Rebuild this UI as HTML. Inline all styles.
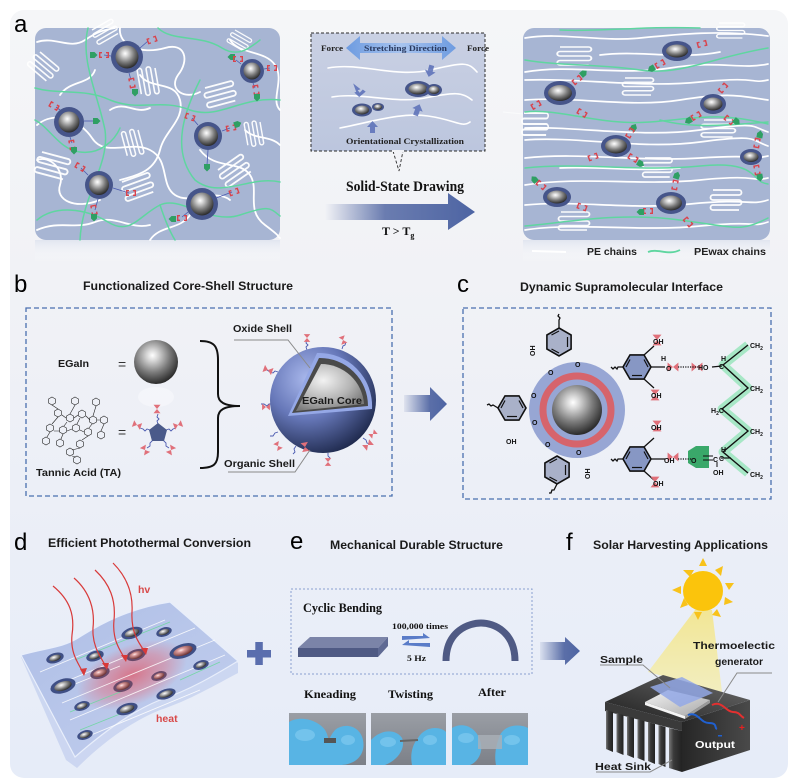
<!DOCTYPE html>
<html><head><meta charset="utf-8"><style>
html,body{margin:0;padding:0;background:#fff;}
svg{display:block;}
.s{font-family:"Liberation Sans",Arial,sans-serif;}
.r{font-family:"Liberation Serif","Times New Roman",serif;font-weight:bold;}
</style></head><body>
<svg width="795" height="782" viewBox="0 0 795 782" xmlns="http://www.w3.org/2000/svg">
<defs>
<linearGradient id="bg" x1="0" y1="0" x2="0" y2="1">
<stop offset="0" stop-color="#f5f6f8"/><stop offset="0.35" stop-color="#f1f2f6"/><stop offset="0.62" stop-color="#eceff7"/><stop offset="1" stop-color="#e6ecf8"/></linearGradient>
<linearGradient id="refl" x1="0" y1="0" x2="0" y2="1">
<stop offset="0" stop-color="#dfe4ef" stop-opacity="0.9"/><stop offset="1" stop-color="#ffffff" stop-opacity="0"/></linearGradient>
<radialGradient id="metal" cx="0.42" cy="0.35" r="0.65">
<stop offset="0" stop-color="#ffffff"/><stop offset="0.2" stop-color="#d6d6d6"/><stop offset="0.6" stop-color="#7b7b7b"/><stop offset="1" stop-color="#2c2c2c"/></radialGradient>
<radialGradient id="metalR" cx="0.42" cy="0.35" r="0.65">
<stop offset="0" stop-color="#ffe9e9"/><stop offset="0.3" stop-color="#d99a9a"/><stop offset="1" stop-color="#6a3030"/></radialGradient>
<radialGradient id="bigS" cx="0.35" cy="0.3" r="0.75">
<stop offset="0" stop-color="#a9b8ec"/><stop offset="0.5" stop-color="#6677b8"/><stop offset="1" stop-color="#1f2a4e"/></radialGradient>
<radialGradient id="core" cx="0.4" cy="0.35" r="0.7">
<stop offset="0" stop-color="#f2f2f2"/><stop offset="0.6" stop-color="#b4b4b4"/><stop offset="1" stop-color="#7a7a7a"/></radialGradient>
<linearGradient id="arr" x1="0" y1="0" x2="1" y2="0">
<stop offset="0" stop-color="#5b6fa8" stop-opacity="0"/><stop offset="0.4" stop-color="#5b6fa8" stop-opacity="0.9"/><stop offset="1" stop-color="#4d64a3"/></linearGradient>
<linearGradient id="arr2" x1="0" y1="0" x2="1" y2="0">
<stop offset="0" stop-color="#5b6fa8" stop-opacity="0.1"/><stop offset="0.6" stop-color="#5b6fa8"/><stop offset="1" stop-color="#4d64a3"/></linearGradient>
<linearGradient id="str" x1="0" y1="0" x2="1" y2="0">
<stop offset="0" stop-color="#6d9be0"/><stop offset="0.5" stop-color="#a8c4ef"/><stop offset="1" stop-color="#6d9be0"/></linearGradient>
<linearGradient id="mid" x1="0" y1="0" x2="0" y2="1">
<stop offset="0" stop-color="#c9d0e3"/><stop offset="1" stop-color="#bcc6de"/></linearGradient>
<linearGradient id="film" x1="0" y1="0" x2="1" y2="1">
<stop offset="0" stop-color="#aebee6"/><stop offset="1" stop-color="#c3cfee"/></linearGradient>
<radialGradient id="glow" cx="0.5" cy="0.5" r="0.5">
<stop offset="0" stop-color="#e05a6a" stop-opacity="0.75"/><stop offset="0.6" stop-color="#e27080" stop-opacity="0.45"/><stop offset="1" stop-color="#e27080" stop-opacity="0"/></radialGradient>
<linearGradient id="beam" x1="0" y1="0" x2="0" y2="1">
<stop offset="0" stop-color="#f3e58a" stop-opacity="0.9"/><stop offset="1" stop-color="#f5eeb0" stop-opacity="0.8"/></linearGradient>
<linearGradient id="topF" x1="0" y1="1" x2="1" y2="0">
<stop offset="0" stop-color="#1e1e1e"/><stop offset="1" stop-color="#6e6e6e"/></linearGradient>
<linearGradient id="rightF" x1="0" y1="0" x2="1" y2="0">
<stop offset="0" stop-color="#262626"/><stop offset="1" stop-color="#4a4a4a"/></linearGradient>
<linearGradient id="fin" x1="0" y1="0" x2="1" y2="0">
<stop offset="0" stop-color="#7a7a7a"/><stop offset="0.35" stop-color="#3a3a3a"/><stop offset="1" stop-color="#222"/></linearGradient>
<linearGradient id="plate" x1="0" y1="0" x2="1" y2="1">
<stop offset="0" stop-color="#f4f4f4"/><stop offset="1" stop-color="#a8a8a8"/></linearGradient>
<linearGradient id="photo" x1="0" y1="0" x2="0" y2="1">
<stop offset="0" stop-color="#9a9ea5"/><stop offset="1" stop-color="#7c8088"/></linearGradient>
<g id="rb"><path d="M-5,-3h3v1.4h-1.6v3.2h1.6v1.4h-3z M5,-3h-3v1.4h1.6v3.2h-1.6v1.4h3z" fill="#d9434c"/></g>
<g id="gp"><path d="M-4,-3h4.5l3,3l-3,3h-4.5z" fill="#2f9f63"/></g>
<g id="lam"><path d="M0,0h26a2.5,2.5 0 0 1 0,5h-26a2.5,2.5 0 0 0 0,5h26a2.5,2.5 0 0 1 0,5h-26a2.5,2.5 0 0 0 0,5h26" fill="none" stroke="#fff" stroke-width="1.8"/></g>
<g id="bow"><path d="M-6,-5L0,0L-6,5Z M6,-5L0,0L6,5Z" fill="#e0707a"/></g>
<g id="hx"><polygon points="0,-14 12.1,-7 12.1,7 0,14 -12.1,7 -12.1,-7" stroke="#111" stroke-width="1.6"/><polyline points="8.5,-5 8.5,5" stroke="#111" stroke-width="1.2" fill="none"/><polyline points="-7.5,7 0,11" stroke="#111" stroke-width="1.2" fill="none"/><polyline points="-7.5,-7 0,-11" stroke="#111" stroke-width="1.2" fill="none"/></g>
<g id="sh"><polygon points="0,-4 3.5,-2 3.5,2 0,4 -3.5,2 -3.5,-2" fill="none" stroke="#222" stroke-width="0.6"/></g>
</defs>

<rect x="0" y="0" width="795" height="782" fill="#fff"/>
<rect x="10" y="10" width="778" height="768" rx="14" fill="url(#bg)"/>

<!-- ============ PANEL A ============ -->
<text x="14" y="32" class="s" font-size="24">a</text>

<!-- left box -->
<rect x="35" y="240" width="245" height="22" fill="url(#refl)"/>
<rect x="35" y="28" width="245" height="212" rx="11" fill="#a7b5d3"/>
<g fill="none" stroke="#fff" stroke-width="1.8" stroke-linecap="round">
<path d="M37,42 C55,36 70,50 85,40 S105,30 115,28"/>
<path d="M37,125 C55,110 80,120 92,138 C105,158 130,140 150,150 C170,160 160,185 175,195 C190,205 215,188 230,200"/>
<path d="M37,160 C50,155 65,170 60,185 C55,200 75,210 100,200"/>
<path d="M120,28 C118,45 140,55 165,48 C185,42 190,60 178,75 C168,90 185,100 200,92"/>
<path d="M140,75 C150,90 175,80 180,100 C185,120 165,130 160,150 C155,170 140,175 120,180"/>
<path d="M230,40 C240,55 265,50 275,65 S270,100 280,110"/>
<path d="M200,150 C215,170 240,160 250,175 C260,190 245,210 265,225 S275,235 280,238"/>
<path d="M37,230 C60,220 75,230 95,222 C115,214 130,230 150,225"/>
<path d="M150,240 C160,225 180,230 190,215"/>
<path d="M245,130 C255,140 270,135 280,145"/>
<path d="M60,95 C70,80 90,85 95,70"/>
<path d="M110,110 C125,100 135,115 150,108"/>
</g>
<g opacity="0.95">
<use href="#lam" transform="translate(40,52) rotate(40) scale(0.9)"/>
<use href="#lam" transform="translate(92,30) rotate(-30) scale(0.8)"/>
<use href="#lam" transform="translate(155,68) rotate(80) scale(0.9)"/>
<use href="#lam" transform="translate(205,88) rotate(-15) scale(1)"/>
<use href="#lam" transform="translate(138,130) rotate(75) scale(0.85)"/>
<use href="#lam" transform="translate(42,152) rotate(15) scale(1.05)"/>
<use href="#lam" transform="translate(122,182) rotate(-20) scale(1)"/>
<use href="#lam" transform="translate(218,170) rotate(-35) scale(1)"/>
<use href="#lam" transform="translate(235,30) rotate(30) scale(0.7)"/>
<use href="#lam" transform="translate(260,122) rotate(80) scale(0.8)"/>
</g>
<g fill="none" stroke="#5fd6a0" stroke-width="1.5" stroke-linecap="round">
<path d="M88,28 C80,60 98,95 105,130 C110,165 82,195 80,240"/>
<path d="M35,88 C60,95 85,88 110,100 C140,112 160,98 190,110 C220,120 240,96 280,100"/>
<path d="M37,220 C55,205 85,208 108,222 C130,236 140,215 160,205 C180,195 210,225 240,215 S270,208 280,216"/>
<path d="M158,28 C172,42 200,34 222,48 C238,58 250,48 260,40"/>
<path d="M200,80 C185,110 170,150 195,180 C220,200 250,175 280,182"/>
<path d="M35,120 C50,128 60,150 80,152 C100,155 115,140 120,128"/>
<path d="M160,205 C165,220 170,232 175,240"/>
</g>
<g>
<circle cx="127" cy="57" r="16" fill="#46558a"/><circle cx="127" cy="57" r="11.5" fill="url(#metal)"/>
<circle cx="252" cy="71" r="12" fill="#46558a"/><circle cx="252" cy="71" r="8.5" fill="url(#metal)"/>
<circle cx="69" cy="122" r="15" fill="#46558a"/><circle cx="69" cy="122" r="10.5" fill="url(#metal)"/>
<circle cx="208" cy="136" r="14" fill="#46558a"/><circle cx="208" cy="136" r="10" fill="url(#metal)"/>
<circle cx="99" cy="185" r="14" fill="#46558a"/><circle cx="99" cy="185" r="10" fill="url(#metal)"/>
<circle cx="202" cy="204" r="16" fill="#46558a"/><circle cx="202" cy="204" r="11.5" fill="url(#metal)"/>
</g>
<g stroke="#4a5ab0" stroke-width="0.8" fill="none">
<path d="M111,56 L104,55"/><path d="M140,48 L148,41"/><path d="M129,73 L131,80"/>
<path d="M264,69 L270,68"/><path d="M241,64 L236,60"/><path d="M253,83 L255,88"/>
<path d="M60,110 L56,107"/><path d="M84,121 L94,121"/><path d="M70,137 L72,143"/>
<path d="M198,125 L192,118"/><path d="M222,131 L230,128"/><path d="M208,150 L207,165"/>
<path d="M88,175 L81,168"/><path d="M113,188 L129,193"/><path d="M98,199 L95,210"/>
<path d="M188,212 L182,217"/><path d="M216,198 L232,192"/>
</g>
<use href="#gp" transform="translate(94,55)"/><use href="#rb" transform="translate(104,55)"/>
<use href="#rb" transform="translate(152,40) rotate(-20)"/><use href="#rb" transform="translate(132,83) rotate(80)"/><use href="#gp" transform="translate(135,93) rotate(90)"/>
<use href="#rb" transform="translate(272,68)"/><use href="#gp" transform="translate(231,57) rotate(180)"/><use href="#rb" transform="translate(238,59)"/><use href="#rb" transform="translate(256,90) rotate(80)"/><use href="#gp" transform="translate(257,98) rotate(90)"/>
<use href="#rb" transform="translate(54,106) rotate(30)"/><use href="#gp" transform="translate(97,121)"/><use href="#rb" transform="translate(72,145) rotate(80)"/><use href="#gp" transform="translate(74,151) rotate(90)"/>
<use href="#rb" transform="translate(190,117) rotate(20)"/><use href="#rb" transform="translate(231,128) rotate(-10)"/><use href="#gp" transform="translate(238,124) rotate(-20)"/><use href="#gp" transform="translate(207,168) rotate(90)"/>
<use href="#rb" transform="translate(80,167) rotate(30)"/><use href="#rb" transform="translate(131,193)"/><use href="#rb" transform="translate(94,210) rotate(80)"/><use href="#gp" transform="translate(94,218) rotate(90)"/>
<use href="#rb" transform="translate(182,218)"/><use href="#gp" transform="translate(172,219) rotate(180)"/><use href="#rb" transform="translate(234,192) rotate(-20)"/>

<!-- middle dashed inset -->
<rect x="311" y="33" width="174" height="118" fill="url(#mid)" stroke="#2a2a2a" stroke-width="1" stroke-dasharray="3,2"/>
<path d="M393,151 L399,171 L403,151" fill="#f2f3f7" stroke="#2a2a2a" stroke-width="0.9" stroke-dasharray="3,2"/>
<rect x="392" y="150" width="12" height="2" fill="#f2f3f7"/>
<polygon points="346,48 360,36 360,43 442,43 442,36 456,48 442,60 442,53 360,53 360,60" fill="url(#str)"/>
<text x="321" y="51" class="r" font-size="8.5" textLength="22" lengthAdjust="spacingAndGlyphs" fill="#222">Force</text>
<text x="364" y="51" class="r" font-size="8.5" textLength="83" lengthAdjust="spacingAndGlyphs" fill="#2a3a60">Stretching Direction</text>
<text x="467" y="51" class="r" font-size="8.5" textLength="22" lengthAdjust="spacingAndGlyphs" fill="#222">Force</text>
<g fill="none" stroke="#fff" stroke-width="1.6" stroke-linecap="round">
<path d="M328,68 C360,62 395,78 430,70 S468,62 477,72"/>
<path d="M332,97 C360,92 395,104 425,98 S462,92 472,100"/>
<path d="M340,128 C372,122 400,112 428,116 S462,128 470,122"/>
</g>
<ellipse cx="362" cy="110" rx="10" ry="6.5" fill="#46558a"/><ellipse cx="362" cy="110" rx="7" ry="4.5" fill="url(#metal)"/>
<ellipse cx="378" cy="107" rx="6" ry="4" fill="#46558a"/><ellipse cx="378" cy="107" rx="4" ry="2.7" fill="url(#metal)"/>
<ellipse cx="418" cy="89" rx="13" ry="8" fill="#46558a"/><ellipse cx="418" cy="89" rx="9.5" ry="5.5" fill="url(#metal)"/>
<ellipse cx="434" cy="90" rx="8" ry="6" fill="#46558a"/><ellipse cx="434" cy="90" rx="5.5" ry="4" fill="url(#metal)"/>
<g fill="#5a6fb8" opacity="0.85">
<path d="M355,82 l5,8 h-3 l1,3 l4,-2 l2,3 l-8,3 l-3,-6 h2z" transform="rotate(-20 358 88)"/>
<path d="M428,65 h5 v6 h3 l-5.5,6 l-5.5,-6 h3z" transform="rotate(15 430 70)"/>
<path d="M370,133 h5 v-6 h3 l-5.5,-6 l-5.5,6 h3z"/>
<path d="M415,116 h5 v-6 h3 l-5.5,-6 l-5.5,6 h3z" transform="rotate(20 418 110)"/>
</g>
<text x="346" y="144" class="r" font-size="8.5" textLength="118" lengthAdjust="spacingAndGlyphs" fill="#222">Orientational Crystallization</text>

<text x="346" y="191" class="r" font-size="15" textLength="118" lengthAdjust="spacingAndGlyphs" fill="#111">Solid-State Drawing</text>
<polygon points="325,204 448,204 448,193 475,212 448,230 448,220 325,220" fill="url(#arr)"/>
<text x="382" y="235" class="r" font-size="12" fill="#111">T &gt; T<tspan dy="3" font-size="8">g</tspan></text>

<!-- right box -->
<rect x="523" y="240" width="247" height="22" fill="url(#refl)"/>
<line x1="503" y1="112" x2="523" y2="114" stroke="#fff" stroke-width="1" opacity="0.6"/>
<rect x="523" y="28" width="247" height="212" rx="11" fill="#a7b5d3"/>
<g fill="none" stroke="#fff" stroke-width="1.7" stroke-linecap="round">
<path d="M525,38 C560,32 600,42 640,38 S720,30 768,36"/>
<path d="M525,72 C570,64 620,76 670,68 S740,70 768,64"/>
<path d="M525,80 C580,78 640,88 700,82 S750,84 768,80"/>
<path d="M525,100 C575,96 630,108 680,100 S740,96 768,100"/>
<path d="M525,128 C575,126 640,138 700,130 S750,126 768,132"/>
<path d="M525,140 C580,136 640,150 700,142 S750,140 768,146"/>
<path d="M525,158 C580,152 640,162 700,158 S750,160 768,156"/>
<path d="M525,185 C580,176 640,186 700,180 S750,182 768,178"/>
<path d="M525,205 C575,200 630,210 690,204 S750,206 768,200"/>
<path d="M525,230 C575,222 640,232 700,226 S750,228 768,222"/>
<path d="M600,55 C640,50 680,60 720,52"/>
<path d="M560,168 C600,166 640,172 680,168"/>
</g>
<g opacity="0.95">
<use href="#lam" transform="translate(719,23) scale(0.9,0.75)"/>
<use href="#lam" transform="translate(560,47) scale(1.1,0.9)"/>
<use href="#lam" transform="translate(625,78) scale(1,0.85)"/>
<use href="#lam" transform="translate(524,113) scale(0.85,1.1)"/>
<use href="#lam" transform="translate(704,120) scale(1.1,0.85)"/>
<use href="#lam" transform="translate(645,158) scale(0.95,0.95)"/>
<use href="#lam" transform="translate(713,190) scale(1,1)"/>
<use href="#lam" transform="translate(561,212) scale(1,0.9)"/>
</g>
<g fill="none" stroke="#5fd6a0" stroke-width="1.5" stroke-linecap="round">
<path d="M525,60 C560,66 600,64 640,70 S710,58 768,48"/>
<path d="M525,112 C560,108 600,126 650,122 S720,112 768,124"/>
<path d="M525,168 C580,162 640,172 700,166 S750,182 768,184"/>
<path d="M525,226 C570,222 620,212 680,220 S740,232 768,218"/>
<path d="M560,30 C600,32 640,26 700,28"/>
<path d="M660,120 C690,128 720,126 768,122"/>
</g>
<g>
<ellipse cx="677" cy="51" rx="15" ry="10" fill="#46558a"/><ellipse cx="677" cy="51" rx="11" ry="6.5" fill="url(#metal)"/>
<ellipse cx="560" cy="93" rx="16" ry="12" fill="#46558a"/><ellipse cx="560" cy="93" rx="12" ry="8" fill="url(#metal)"/>
<ellipse cx="713" cy="104" rx="13" ry="10" fill="#46558a"/><ellipse cx="713" cy="104" rx="9.5" ry="6.5" fill="url(#metal)"/>
<ellipse cx="616" cy="146" rx="15" ry="11" fill="#46558a"/><ellipse cx="616" cy="146" rx="11" ry="7.5" fill="url(#metal)"/>
<ellipse cx="751" cy="157" rx="11" ry="8" fill="#46558a"/><ellipse cx="751" cy="157" rx="7.5" ry="5" fill="url(#metal)"/>
<ellipse cx="557" cy="197" rx="14" ry="10" fill="#46558a"/><ellipse cx="557" cy="197" rx="10" ry="6.5" fill="url(#metal)"/>
<ellipse cx="671" cy="203" rx="15" ry="11" fill="#46558a"/><ellipse cx="671" cy="203" rx="11" ry="7.5" fill="url(#metal)"/>
</g>
<use href="#rb" transform="translate(702,44) rotate(-15)"/><use href="#rb" transform="translate(660,64) rotate(-30)"/><use href="#gp" transform="translate(651,69) rotate(150)"/>
<use href="#gp" transform="translate(584,73) rotate(-40)"/><use href="#rb" transform="translate(577,80) rotate(-40)"/><use href="#rb" transform="translate(536,105) rotate(-30)"/><use href="#rb" transform="translate(582,113) rotate(30)"/>
<use href="#rb" transform="translate(723,88) rotate(-50)"/><use href="#gp" transform="translate(688,121) rotate(150)"/><use href="#rb" transform="translate(696,116) rotate(150)"/><use href="#rb" transform="translate(729,120) rotate(40)"/><use href="#gp" transform="translate(737,122) rotate(40)"/>
<use href="#gp" transform="translate(634,127) rotate(-60)"/><use href="#rb" transform="translate(630,133) rotate(-60)"/><use href="#rb" transform="translate(593,157) rotate(-20)"/><use href="#rb" transform="translate(633,158) rotate(30)"/><use href="#gp" transform="translate(641,164) rotate(30)"/>
<use href="#gp" transform="translate(760,134) rotate(-80)"/><use href="#rb" transform="translate(757,143) rotate(-80)"/><use href="#rb" transform="translate(757,170) rotate(80)"/><use href="#gp" transform="translate(760,178) rotate(80)"/>
<use href="#gp" transform="translate(534,179) rotate(-130)"/><use href="#rb" transform="translate(541,185) rotate(40)"/><use href="#rb" transform="translate(582,207) rotate(20)"/>
<use href="#gp" transform="translate(677,175) rotate(-70)"/><use href="#rb" transform="translate(675,185) rotate(-80)"/><use href="#rb" transform="translate(648,211)"/><use href="#gp" transform="translate(640,212) rotate(180)"/><use href="#rb" transform="translate(688,222) rotate(50)"/>
<line x1="532" y1="251" x2="566" y2="252" stroke="#fff" stroke-width="2"/>
<path d="M648,252 C658,248 668,256 680,250" fill="none" stroke="#5fd6a0" stroke-width="1.8"/>
<text x="587" y="255" class="s" font-size="10.5" font-weight="bold" textLength="50" lengthAdjust="spacingAndGlyphs" fill="#222">PE chains</text>
<text x="694" y="255" class="s" font-size="10.5" font-weight="bold" textLength="72" lengthAdjust="spacingAndGlyphs" fill="#222">PEwax chains</text>

<!-- ============ PANEL B ============ -->
<text x="14" y="292" class="s" font-size="24">b</text>
<text x="83" y="290" class="s" font-size="12" font-weight="bold" textLength="210" lengthAdjust="spacingAndGlyphs" fill="#1a1a1a">Functionalized Core-Shell Structure</text>
<rect x="26" y="308" width="366" height="188" fill="none" stroke="#4a70b0" stroke-width="1.3" stroke-dasharray="5,3"/>
<text x="58" y="367" class="s" font-size="10.5" font-weight="bold" textLength="31" lengthAdjust="spacingAndGlyphs" fill="#1a1a1a">EGaIn</text>
<text x="118" y="369" class="s" font-size="14" fill="#333">=</text>
<circle cx="156" cy="362" r="22" fill="url(#metal)"/>
<ellipse cx="156" cy="397" rx="18" ry="10" fill="#fff" opacity="0.35"/>
<text x="118" y="437" class="s" font-size="14" fill="#333">=</text>
<g stroke="#4a5ab0" stroke-width="0.9" fill="none">
<path d="M158,424 l-1,-3 l2,-2 l-2,-2 l1,-3"/><path d="M150,430 l-3,-1 l-2,2 l-2,-2 l-3,-1"/><path d="M166,430 l3,-1 l2,2 l2,-2 l3,-1"/><path d="M153,440 l-3,3 l0,3 l-3,2"/><path d="M163,440 l3,3 l0,3 l3,2"/>
</g>
<polygon points="158,423 167,430 164,441 152,441 149,430" fill="#4a5a8a"/>
<use href="#bow" transform="translate(157,409) rotate(90) scale(0.7)"/>
<use href="#bow" transform="translate(137,425) rotate(20) scale(0.7)"/>
<use href="#bow" transform="translate(178,425) rotate(-20) scale(0.7)"/>
<use href="#bow" transform="translate(145,450) rotate(60) scale(0.7)"/>
<use href="#bow" transform="translate(171,450) rotate(-60) scale(0.7)"/>
<g>
<use href="#sh" transform="translate(52,401)"/><use href="#sh" transform="translate(75,401)"/><use href="#sh" transform="translate(96,402)"/>
<use href="#sh" transform="translate(58,413)"/><use href="#sh" transform="translate(70,418)"/><use href="#sh" transform="translate(82,414)"/><use href="#sh" transform="translate(93,420)"/><use href="#sh" transform="translate(104,420)"/>
<use href="#sh" transform="translate(50,428)"/><use href="#sh" transform="translate(63,430)"/><use href="#sh" transform="translate(76,428)"/><use href="#sh" transform="translate(88,432)"/><use href="#sh" transform="translate(101,435)"/>
<use href="#sh" transform="translate(46,441)"/><use href="#sh" transform="translate(60,443)"/><use href="#sh" transform="translate(80,444)"/>
<use href="#sh" transform="translate(70,452)"/><use href="#sh" transform="translate(77,460)"/>
<path d="M52,405 L58,409 M75,405 L70,414 M96,406 L93,416 M62,415 L66,418 M74,418 L78,415 M86,416 L90,420 M97,420 L100,420 M58,417 L52,424 M67,422 L64,426 M80,418 L77,424 M92,424 L89,428 M104,424 L101,431 M54,431 L60,431 M67,431 L72,429 M80,430 L84,432 M50,432 L47,437 M63,434 L61,439 M88,436 L82,440 M80,448 L72,450 M72,456 L76,457" stroke="#222" stroke-width="0.6" fill="none"/>
</g>
<text x="36" y="476" class="s" font-size="10.5" font-weight="bold" textLength="85" lengthAdjust="spacingAndGlyphs" fill="#1a1a1a">Tannic Acid (TA)</text>
<path d="M200,341 C214,341 218,346 218,360 L218,394 C218,402 224,406 240,406 C224,406 218,410 218,418 L218,452 C218,464 214,468 200,468" fill="none" stroke="#111" stroke-width="2"/>
<g stroke="#4a5ab0" stroke-width="0.9" fill="none">
<path d="M307,350 l-1,-3 l2,-2 l-2,-2 l1,-3"/><path d="M342,349 l1,-3 l2,-1 l1,-3"/><path d="M278,372 l-3,-1 l-2,2 l-3,-1 l-3,-2"/>
<path d="M272,404 l-3,0 l-2,2 l-3,-2 l-3,0"/><path d="M278,432 l-3,1 l-2,3 l-3,0"/><path d="M296,446 l-2,3 l1,3 l-2,2"/>
<path d="M328,453 l0,3 l2,2 l-2,3"/><path d="M363,438 l3,2 l1,3 l3,1"/><path d="M366,418 l3,2"/>
</g>
<circle cx="323" cy="400" r="53" fill="url(#bigS)"/>
<path d="M288,416 L317,353 A53,53 0 0 1 372,409 Z" fill="#95a8e6"/>
<path d="M292,413 L319,358 A48,48 0 0 1 368,406 Z" fill="#4a4a4a"/>
<path d="M296,411 L321,364 A43,43 0 0 1 364,404 Z" fill="url(#core)"/>
<use href="#bow" transform="translate(307,338) rotate(90) scale(0.65)"/>
<use href="#bow" transform="translate(343,340) rotate(70) scale(0.65)"/>
<use href="#bow" transform="translate(268,370) rotate(20) scale(0.75)"/>
<use href="#bow" transform="translate(266,407) rotate(0) scale(0.65)"/>
<use href="#bow" transform="translate(278,446) rotate(60) scale(0.65)"/>
<use href="#bow" transform="translate(305,447) rotate(80) scale(0.75)"/>
<use href="#bow" transform="translate(328,462) rotate(90) scale(0.65)"/>
<use href="#bow" transform="translate(368,445) rotate(-40) scale(0.75)"/>
<use href="#bow" transform="translate(373,434) rotate(-40) scale(0.6)"/>
<polyline points="234,340 288,340 310,368" fill="none" stroke="#8a8a8a" stroke-width="1"/>
<polyline points="228,472 295,472 310,450" fill="none" stroke="#8a8a8a" stroke-width="1"/>
<text x="233" y="332" class="s" font-size="10.5" font-weight="bold" textLength="59" lengthAdjust="spacingAndGlyphs" fill="#1a1a1a">Oxide Shell</text>
<text x="302" y="404" class="s" font-size="10.5" font-weight="bold" textLength="60" lengthAdjust="spacingAndGlyphs" fill="#1a1a1a">EGaIn Core</text>
<text x="224" y="467" class="s" font-size="10.5" font-weight="bold" textLength="71" lengthAdjust="spacingAndGlyphs" fill="#1a1a1a">Organic Shell</text>

<polygon points="404,395 430,395 430,387 447,404 430,421 430,412 404,412" fill="url(#arr2)"/>

<!-- ============ PANEL C ============ -->
<text x="457" y="292" class="s" font-size="24">c</text>
<text x="520" y="291" class="s" font-size="12" font-weight="bold" textLength="203" lengthAdjust="spacingAndGlyphs" fill="#1a1a1a">Dynamic Supramolecular Interface</text>
<rect x="463" y="308" width="308" height="191" fill="none" stroke="#4a70b0" stroke-width="1.3" stroke-dasharray="5,3"/>
<polyline points="748,345 723,365 748,388 722,409 748,431 723,452 748,473" fill="none" stroke="#9fe6c0" stroke-width="9" stroke-linejoin="round" opacity="0.9"/>
<polyline points="748,345 723,365 748,388 722,409 748,431 723,452 748,473" fill="none" stroke="#111" stroke-width="1.4"/>
<circle cx="577" cy="410" r="48" fill="#97a6d4"/>
<circle cx="577" cy="410" r="34" fill="none" stroke="#d6646c" stroke-width="7"/>
<circle cx="577" cy="410" r="25" fill="url(#metal)"/>
<use href="#hx" transform="translate(559,342)" fill="#a9b1c9"/>
<use href="#hx" transform="translate(512,408) rotate(90)" fill="#a9b1c9"/>
<use href="#hx" transform="translate(557,470)" fill="#a9b1c9"/>
<use href="#hx" transform="translate(637,367) rotate(90)" fill="#8797c4"/>
<use href="#hx" transform="translate(637,459) rotate(90)" fill="#8797c4"/>
<g stroke="#111" stroke-width="1.3" fill="none">
<path d="M559,328 l0,-8 l1,-2 l-2,-2 l1,-2"/>
<path d="M498,408 l-5,-3 l-2,1 l-2,-2 l-2,1"/>
<path d="M557,484 l-3,6 l-2,0 l-1,3 l-2,0"/>
<path d="M623,367 l-5,0 l-1,2 l-2,-2 l-2,2 l-2,-2"/>
<path d="M623,459 l-5,0 l-1,2 l-2,-2 l-2,2 l-2,-2"/>
<path d="M644,355 L654,346 M644,379 L654,388 M651,367 L665,367"/>
<path d="M644,447 L654,438 M644,471 L654,480 M651,459 L665,459"/>
</g>
<use href="#bow" transform="translate(657,340) rotate(90) scale(0.9)"/>
<use href="#bow" transform="translate(655,395) rotate(90) scale(0.9)"/>
<use href="#bow" transform="translate(657,426) rotate(90) scale(0.9)"/>
<use href="#bow" transform="translate(655,482) rotate(90) scale(0.9)"/>
<use href="#bow" transform="translate(673,367) scale(0.9)"/>
<use href="#bow" transform="translate(697,367) scale(0.9)"/>
<use href="#bow" transform="translate(673,457) scale(0.9)"/>
<polygon points="688,451 696,446 709,446 709,468 696,468 688,463" fill="#3aa86a"/>
<line x1="678" y1="367" x2="698" y2="367" stroke="#111" stroke-width="1.3" stroke-dasharray="1.2,1.2"/>
<line x1="678" y1="459" x2="692" y2="459" stroke="#111" stroke-width="1.3" stroke-dasharray="1.2,1.2"/>
<line x1="712" y1="367" x2="722" y2="366" stroke="#111" stroke-width="1.2"/>
<line x1="703" y1="456" x2="713" y2="456" stroke="#111" stroke-width="1"/><line x1="703" y1="460" x2="713" y2="460" stroke="#111" stroke-width="1"/>
<line x1="721" y1="458" x2="731" y2="458" stroke="#111" stroke-width="1.2"/>
<line x1="717" y1="462" x2="717" y2="467" stroke="#111" stroke-width="1"/>
<g class="s" font-size="7" font-weight="bold" fill="#111">
<text x="653" y="344">OH</text><text x="661" y="361">H</text><text x="666" y="371">O</text><text x="651" y="398">OH</text>
<text x="651" y="430">OH</text><text x="653" y="486">OH</text><text x="664" y="463">OH</text>
<text x="698" y="370">HO</text><text x="691" y="463">O</text><text x="713" y="462">C</text><text x="713" y="475">OH</text>
<text x="719" y="369">C</text><text x="721" y="361">H</text>
<text x="719" y="461">C</text><text x="721" y="452">H</text>
<text x="750" y="348">CH<tspan font-size="5" dy="2">2</tspan></text>
<text x="750" y="391">CH<tspan font-size="5" dy="2">2</tspan></text>
<text x="711" y="413">H<tspan font-size="5" dy="2">2</tspan><tspan dy="-2">C</tspan></text>
<text x="750" y="434">CH<tspan font-size="5" dy="2">2</tspan></text>
<text x="750" y="477">CH<tspan font-size="5" dy="2">2</tspan></text>
<text x="528" y="355" transform="rotate(-90 532 352)">OH</text>
<text x="575" y="367">O</text><text x="548" y="375">O</text>
<text x="531" y="398">O</text><text x="532" y="425">O</text><text x="506" y="444">OH</text>
<text x="545" y="447">O</text><text x="576" y="455">O</text>
<text x="583" y="478" transform="rotate(-90 587 475)">OH</text>
</g>

<!-- ============ PANEL D ============ -->
<text x="14" y="550" class="s" font-size="24">d</text>
<text x="48" y="547" class="s" font-size="12" font-weight="bold" textLength="203" lengthAdjust="spacingAndGlyphs" fill="#1a1a1a">Efficient Photothermal Conversion</text>
<path d="M21,657 C45,650 62,650 78,640 C100,626 130,610 170,604 L238,663 L238,673 C215,685 190,700 160,710 C130,722 100,745 77,768 L66,760 Z" fill="#c9d4ef" opacity="0.9"/>
<path d="M21,655 C45,648 62,648 78,638 C100,624 130,608 170,602 L238,661 C215,675 190,690 160,700 C130,712 100,735 75,757 Z" fill="url(#film)" stroke="#e8eefb" stroke-width="1.2"/>
<ellipse cx="132" cy="675" rx="58" ry="30" transform="rotate(-22 132 675)" fill="url(#glow)"/>
<g stroke="#fff" stroke-width="0.9" opacity="0.85">
<line x1="40" y1="672" x2="165" y2="620"/><line x1="50" y1="688" x2="195" y2="628"/><line x1="62" y1="703" x2="215" y2="640"/>
<line x1="70" y1="720" x2="225" y2="655"/><line x1="84" y1="738" x2="200" y2="690"/><line x1="60" y1="690" x2="120" y2="666"/>
</g>
<g stroke="#6ed8a0" stroke-width="0.8" opacity="0.9">
<line x1="75" y1="660" x2="170" y2="622"/><line x1="70" y1="712" x2="130" y2="688"/><line x1="180" y1="680" x2="220" y2="662"/><line x1="80" y1="730" x2="120" y2="714"/>
</g>
<g>
<g transform="rotate(-18 55 658)"><ellipse cx="55" cy="658" rx="9" ry="5" fill="#3f4f85"/><ellipse cx="55" cy="658" rx="6" ry="3" fill="url(#metal)"/></g>
<g transform="rotate(-18 95 656)"><ellipse cx="95" cy="656" rx="9" ry="5" fill="#3f4f85"/><ellipse cx="95" cy="656" rx="6" ry="3" fill="url(#metal)"/></g>
<g transform="rotate(-18 132 633)"><ellipse cx="132" cy="633" rx="11" ry="5.5" fill="#3f4f85"/><ellipse cx="132" cy="633" rx="7.5" ry="3.5" fill="url(#metal)"/></g>
<g transform="rotate(-18 164 632)"><ellipse cx="164" cy="632" rx="8" ry="4.5" fill="#3f4f85"/><ellipse cx="164" cy="632" rx="5.5" ry="2.8" fill="url(#metal)"/></g>
<g transform="rotate(-18 183 651)"><ellipse cx="183" cy="651" rx="14" ry="7" fill="#3f4f85"/><ellipse cx="183" cy="651" rx="10" ry="4.5" fill="url(#metalR)"/></g>
<g transform="rotate(-18 136 655)"><ellipse cx="136" cy="655" rx="10" ry="5.5" fill="#6a4a6a"/><ellipse cx="136" cy="655" rx="7" ry="3.5" fill="url(#metalR)"/></g>
<g transform="rotate(-18 100 673)"><ellipse cx="100" cy="673" rx="10" ry="5.5" fill="#6a4a6a"/><ellipse cx="100" cy="673" rx="7" ry="3.5" fill="url(#metalR)"/></g>
<g transform="rotate(-18 63 686)"><ellipse cx="63" cy="686" rx="13" ry="7" fill="#3f4f85"/><ellipse cx="63" cy="686" rx="9" ry="4.5" fill="url(#metal)"/></g>
<g transform="rotate(-18 123 686)"><ellipse cx="123" cy="686" rx="10" ry="5.5" fill="#6a4a6a"/><ellipse cx="123" cy="686" rx="7" ry="3.5" fill="url(#metalR)"/></g>
<g transform="rotate(-18 159 676)"><ellipse cx="159" cy="676" rx="8" ry="4.5" fill="#6a4a6a"/><ellipse cx="159" cy="676" rx="5.5" ry="2.8" fill="url(#metalR)"/></g>
<g transform="rotate(-18 201 665)"><ellipse cx="201" cy="665" rx="8" ry="4.5" fill="#3f4f85"/><ellipse cx="201" cy="665" rx="5.5" ry="2.8" fill="url(#metal)"/></g>
<g transform="rotate(-18 82 706)"><ellipse cx="82" cy="706" rx="8" ry="4.5" fill="#3f4f85"/><ellipse cx="82" cy="706" rx="5.5" ry="2.8" fill="url(#metal)"/></g>
<g transform="rotate(-18 127 709)"><ellipse cx="127" cy="709" rx="11" ry="5.5" fill="#3f4f85"/><ellipse cx="127" cy="709" rx="7.5" ry="3.5" fill="url(#metal)"/></g>
<g transform="rotate(-18 166 694)"><ellipse cx="166" cy="694" rx="10" ry="5" fill="#3f4f85"/><ellipse cx="166" cy="694" rx="7" ry="3.2" fill="url(#metal)"/></g>
<g transform="rotate(-18 85 735)"><ellipse cx="85" cy="735" rx="8" ry="4.5" fill="#3f4f85"/><ellipse cx="85" cy="735" rx="5.5" ry="2.8" fill="url(#metal)"/></g>
</g>
<g fill="none" stroke="#d83a3a" stroke-width="1.2">
<path d="M53,586 C70,600 75,615 72,635 C70,655 80,665 83,673"/>
<path d="M74,578 C90,592 95,610 93,628 C92,648 102,658 106,667"/>
<path d="M95,570 C110,584 116,600 114,620 C112,640 120,650 125,659"/>
<path d="M113,563 C128,578 133,595 132,612 C131,632 138,642 145,652"/>
</g>
<g fill="#d83a3a">
<polygon points="80,669 87,668 84,676"/><polygon points="102,663 109,663 107,670"/><polygon points="121,655 128,655 126,662"/><polygon points="141,648 148,648 146,655"/>
</g>
<text x="138" y="593" class="s" font-size="10.5" font-weight="bold" fill="#d84848">hv</text>
<text x="156" y="722" class="s" font-size="10.5" font-weight="bold" fill="#d84848">heat</text>
<rect x="247" y="650" width="24" height="7.5" fill="#5a6eae"/>
<rect x="255.3" y="642" width="7.5" height="23" fill="#5a6eae"/>

<!-- ============ PANEL E ============ -->
<text x="290" y="549" class="s" font-size="24">e</text>
<text x="330" y="549" class="s" font-size="12" font-weight="bold" textLength="173" lengthAdjust="spacingAndGlyphs" fill="#1a1a1a">Mechanical Durable Structure</text>
<rect x="291" y="589" width="241" height="85" fill="none" stroke="#8aa0d0" stroke-width="1" stroke-dasharray="2,2"/>
<text x="303" y="612" class="r" font-size="13" textLength="79" lengthAdjust="spacingAndGlyphs" fill="#111">Cyclic Bending</text>
<polygon points="310,637 388,637 378,648 298,648" fill="#7b84a8"/>
<polygon points="298,648 378,648 378,657 298,657" fill="#4f5a84"/>
<polygon points="378,648 388,637 388,646 378,657" fill="#5f6a94"/>
<text x="392" y="629" class="r" font-size="8.5" textLength="56" lengthAdjust="spacingAndGlyphs" fill="#111">100,000 times</text>
<polygon points="402,636 423,636 423,633 430,638 402,640" fill="#5a7cc8"/>
<polygon points="430,643 409,643 409,640 402,645 430,647" fill="#5a7cc8"/>
<text x="407" y="661" class="r" font-size="8.5" textLength="19" lengthAdjust="spacingAndGlyphs" fill="#111">5 Hz</text>
<path d="M446,661 C446,630 470,623 481,623 C494,623 515,632 515,661" fill="none" stroke="#4f5a84" stroke-width="7"/>
<text x="304" y="698" class="r" font-size="12" textLength="52" lengthAdjust="spacingAndGlyphs" fill="#111">Kneading</text>
<text x="388" y="698" class="r" font-size="12" textLength="45" lengthAdjust="spacingAndGlyphs" fill="#111">Twisting</text>
<text x="478" y="696" class="r" font-size="12" textLength="28" lengthAdjust="spacingAndGlyphs" fill="#111">After</text>
<rect x="289" y="713" width="77" height="52" fill="url(#photo)"/>
<rect x="371" y="713" width="75" height="52" fill="url(#photo)"/>
<rect x="452" y="713" width="76" height="52" fill="url(#photo)"/>
<g fill="#58b4e4">
<path d="M289,722 C300,715 318,720 325,730 C332,742 330,760 322,765 L289,765 Z"/>
<path d="M335,730 C345,722 360,726 363,740 C366,755 355,765 340,765 L322,765 C325,750 328,738 335,730 Z"/>
<path d="M371,740 C380,730 395,728 402,738 C406,748 398,760 385,765 L371,765 Z"/>
<path d="M418,738 C425,726 440,726 446,732 L446,765 L412,765 C410,755 412,745 418,738 Z"/>
<path d="M452,728 C462,722 475,726 480,740 C484,752 478,762 470,765 L452,765 Z"/>
<path d="M500,735 C506,724 520,724 528,728 L528,765 L496,765 C494,755 496,745 500,735 Z"/>
</g>
<g fill="#7fcaf0" opacity="0.7">
<ellipse cx="305" cy="735" rx="10" ry="6"/><ellipse cx="348" cy="740" rx="7" ry="5"/><ellipse cx="388" cy="742" rx="8" ry="5"/><ellipse cx="430" cy="740" rx="7" ry="5"/><ellipse cx="466" cy="738" rx="8" ry="5"/><ellipse cx="512" cy="740" rx="8" ry="5"/>
</g>
<rect x="324" y="738" width="12" height="5" fill="#555" />
<line x1="400" y1="741" x2="418" y2="740" stroke="#666" stroke-width="2"/>
<rect x="478" y="735" width="24" height="14" fill="#aab0b8" opacity="0.8"/>

<polygon points="540,642 565,642 565,637 580,651 565,665 565,660 540,660" fill="url(#arr2)"/>

<!-- ============ PANEL F ============ -->
<text x="566" y="550" class="s" font-size="24">f</text>
<text x="593" y="549" class="s" font-size="12" font-weight="bold" textLength="175" lengthAdjust="spacingAndGlyphs" fill="#1a1a1a">Solar Harvesting Applications</text>
<polygon points="695,610 712,610 722,692 648,672" fill="url(#beam)"/>
<g fill="#f8c21a">
<polygon points="703,558 699,566 707,566"/>
<polygon points="723,566 715,570 721,576"/>
<polygon points="734,583 725,583 729,590"/>
<polygon points="733,602 725,597 724,605"/>
<polygon points="721,617 717,609 712,615"/>
<polygon points="698,620 702,612 694,612"/>
<polygon points="680,608 688,605 684,598"/>
<polygon points="672,590 681,586 681,594"/>
<polygon points="683,570 690,577 694,570"/>
</g>
<circle cx="703" cy="591" r="20" fill="#fbc40c"/>
<!-- heat sink -->
<polygon points="682,722 750,700 750,750 682,772" fill="url(#rightF)"/>
<polygon points="605,702 682,722 682,731 605,711" fill="#3a3a3a"/>
<g>
<polygon points="606,710 613,712 613,752 606,749" fill="url(#fin)"/>
<polygon points="616.5,713 623.5,715 623.5,755 616.5,752" fill="url(#fin)"/>
<polygon points="627,716 634,718 634,758 627,755" fill="url(#fin)"/>
<polygon points="637.5,719 644.5,721 644.5,761 637.5,758" fill="url(#fin)"/>
<polygon points="648,722 655,724 655,764 648,761" fill="url(#fin)"/>
<polygon points="658.5,725 665.5,727 665.5,767 658.5,764" fill="url(#fin)"/>
<polygon points="669,728 682,731 682,772 669,768" fill="url(#fin)"/>
</g>
<polygon points="605,702 663,675 750,700 682,722" fill="url(#topF)"/>
<polygon points="645,702 668,690 710,700 685,716" fill="url(#plate)"/>
<polygon points="645,702 685,716 685,719 645,705" fill="#f4f4f4"/>
<polygon points="685,716 710,700 710,703 685,719" fill="#9a9a9a"/>
<polygon points="650,687 682,677 713,693 680,707" fill="#93a8e6" opacity="0.85"/>
<path d="M712,705 C722,700 726,712 733,712 S740,716 744,718" fill="none" stroke="#e33030" stroke-width="2"/>
<path d="M688,715 C698,711 700,723 709,723 S714,728 717,729" fill="none" stroke="#2060d0" stroke-width="2"/>
<text x="739" y="731" class="s" font-size="10" font-weight="bold" fill="#e82020">+</text>
<rect x="718" y="735" width="4" height="1.5" fill="#2060d0"/>
<polyline points="600,665 643,665 670,688" fill="none" stroke="#8a8a8a" stroke-width="1"/>
<polyline points="772,673 737,673 718,702" fill="none" stroke="#8a8a8a" stroke-width="1"/>
<polyline points="596,772 650,772 672,760" fill="none" stroke="#8a8a8a" stroke-width="1"/>
<text x="600" y="663" class="s" font-size="10.5" font-weight="bold" textLength="43" lengthAdjust="spacingAndGlyphs" fill="#1a1a1a">Sample</text>
<text x="693" y="649" class="s" font-size="10.5" font-weight="bold" textLength="82" lengthAdjust="spacingAndGlyphs" fill="#1a1a1a">Thermoelectic</text>
<text x="715" y="665" class="s" font-size="10.5" font-weight="bold" textLength="48" lengthAdjust="spacingAndGlyphs" fill="#1a1a1a">generator</text>
<text x="695" y="748" class="s" font-size="10.5" font-weight="bold" textLength="40" lengthAdjust="spacingAndGlyphs" fill="#ffffff">Output</text>
<text x="595" y="770" class="s" font-size="10.5" font-weight="bold" textLength="56" lengthAdjust="spacingAndGlyphs" fill="#1a1a1a">Heat Sink</text>
</svg>
</body></html>
